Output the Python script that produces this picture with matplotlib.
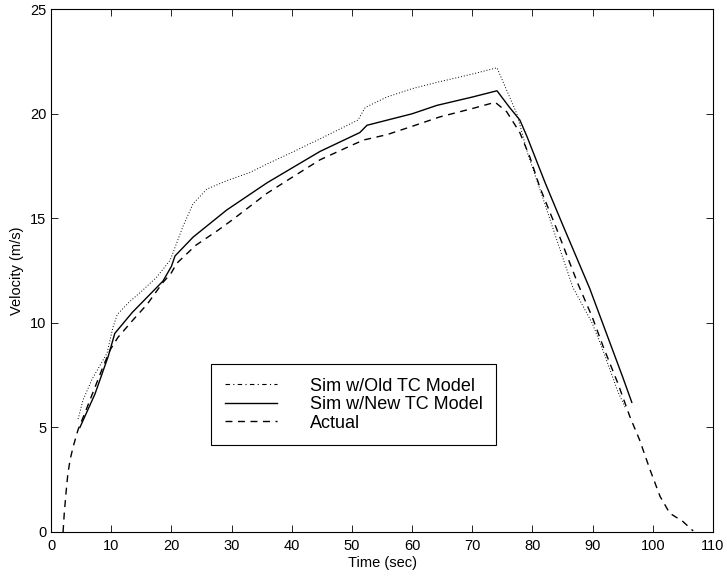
import matplotlib
matplotlib.use("Agg")
import matplotlib.pyplot as plt
from matplotlib.lines import Line2D

plt.rcParams.update({"font.family": ["Liberation Sans", "DejaVu Sans"], "font.size": 10})

# ---- data ----
t_old = [4.5, 5.3, 6.8, 9.3, 10.3, 11.0, 13.0, 15.0, 17.6, 19.8, 21.9, 23.6, 25.9, 29.2, 33.1, 35.9,
         40.0, 44.7, 51.0, 52.2, 55.8, 60.0, 64.1, 70.0, 74.1, 77.4, 79.2, 81.7, 84.0, 86.7, 89.9,
         91.7, 94.2, 95.5]
v_old = [5.4, 6.3, 7.3, 8.55, 9.8, 10.4, 11.0, 11.5, 12.2, 13.0, 14.6, 15.7, 16.4, 16.8, 17.2, 17.6,
         18.15, 18.8, 19.7, 20.3, 20.8, 21.2, 21.5, 21.9, 22.2, 20.0, 18.1, 16.0, 14.0, 11.7, 10.0,
         8.7, 6.7, 5.9]

t_new = [4.8, 7.3, 9.5, 10.6, 13.5, 18.6, 20.0, 20.6, 23.6, 29.2, 35.9, 40.0, 44.7, 51.3, 52.5,
         60.0, 64.1, 70.0, 74.1, 76.2, 77.9, 79.1, 82.1, 85.0, 89.5, 95.0, 96.5]
v_new = [5.0, 6.6, 8.4, 9.5, 10.5, 12.0, 12.7, 13.2, 14.1, 15.4, 16.7, 17.4, 18.2, 19.1, 19.45,
         20.0, 20.4, 20.8, 21.1, 20.3, 19.7, 18.9, 16.7, 14.7, 11.65, 7.4, 6.2]

t_act = [2.0, 2.2, 2.5, 2.8, 3.2, 3.7, 4.5, 5.5, 7.0, 8.5, 9.8, 11.1, 13.5, 16.0, 18.5, 20.0, 20.9,
         24.0, 27.6, 30.0, 35.9, 40.0, 44.7, 50.0, 52.0, 55.8, 60.0, 64.6, 70.0, 73.8, 75.7, 77.9,
         79.6, 81.2, 84.0, 87.5, 89.9, 91.7, 94.2, 96.2, 97.8, 99.5, 101.2, 102.8, 105.0, 106.7]
v_act = [0.0, 0.9, 1.9, 2.8, 3.5, 4.1, 4.9, 5.6, 6.7, 7.8, 8.7, 9.3, 10.1, 10.9, 11.9, 12.4, 12.85,
         13.7, 14.4, 14.9, 16.2, 16.95, 17.8, 18.5, 18.75, 19.0, 19.4, 19.85, 20.25, 20.55, 20.1, 19.1,
         17.9, 16.5, 14.5, 11.9, 10.3, 8.9, 7.1, 5.5, 4.4, 3.0, 1.7, 0.9, 0.5, 0.05]

labels = ["Sim w/Old TC Model", "Sim w/New TC Model", "Actual"]

fig = plt.figure(figsize=(7.27, 5.76), dpi=100)
ax = fig.add_axes([0.0702, 0.0764, 0.9106, 0.9076])

ax.plot(t_old, v_old, color="black", lw=0.7, ls=(0, (1, 2)))
ax.plot(t_new, v_new, color="black", lw=1.0, ls="-")
ax.plot(t_act, v_act, color="black", lw=1.0, ls=(0, (5, 4)))

ax.set_xlim(0, 110); ax.set_ylim(0, 25)
ax.set_xticks(range(0, 111, 10)); ax.set_yticks(range(0, 26, 5))
ax.tick_params(direction="in", top=True, right=True, length=5, width=0.6, labelsize=10.5)
ax.tick_params(axis="x", pad=5)
for s in ax.spines.values():
    s.set_linewidth(0.8)
ax.set_xlabel("Time (sec)", fontsize=10.5, labelpad=2)
ax.set_ylabel("Velocity (m/s)", fontsize=10.5, labelpad=4)

handles = [Line2D([], [], color="black", lw=0.8, ls=(0, (4, 3, 1, 3))),
           Line2D([], [], color="black", lw=1.0, ls="-"),
           Line2D([], [], color="black", lw=1.0, ls=(0, (5, 4)))]
leg = ax.legend(handles, labels, loc="lower left", bbox_to_anchor=(0.242, 0.166), fontsize=13,
                frameon=True, fancybox=False, edgecolor="black", framealpha=1,
                handlelength=2.9, handletextpad=1.8, labelspacing=0.08, borderpad=0.75,
                borderaxespad=0)
leg.get_frame().set_linewidth(0.8)

fig.savefig("out.png", dpi=100)
